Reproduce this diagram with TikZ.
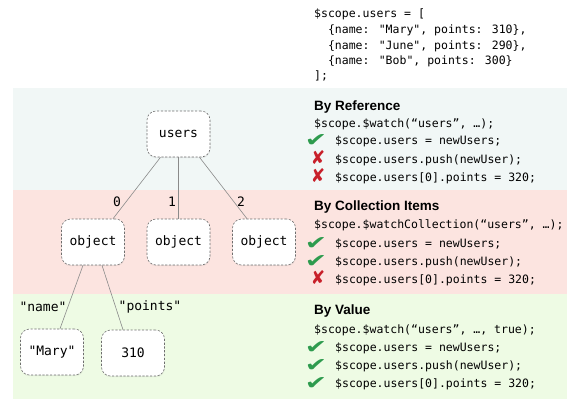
\documentclass[tikz,border=0pt]{standalone}
\usepackage{fontspec}
\usepackage{graphicx}
\setmainfont{Liberation Sans}
\newfontfamily\codefont{DejaVu Sans Mono}
\newfontfamily\symfont{DejaVu Sans}
\usetikzlibrary{shadows}
\definecolor{bandA}{HTML}{F1F7F6}
\definecolor{bandB}{HTML}{FCE4E0}
\definecolor{bandC}{HTML}{EEFBE4}
\definecolor{okc}{HTML}{2E9B4E}
\definecolor{noc}{HTML}{C8202A}
\definecolor{edgec}{HTML}{8A8A8A}
\definecolor{boxc}{HTML}{6E6E6E}
\newcommand{\okmark}{\scalebox{1.4}[1.0]{✔}}
\newcommand{\nomark}{\scalebox{0.95}[1.05]{✘}}
\begin{document}
\begin{tikzpicture}[x=1bp,y=-1bp,
  box/.style={draw=boxc, line width=0.6bp, dash pattern=on 2.2bp off 1.6bp,
    fill=white, rounded corners=9bp, minimum width=63bp, minimum height=46bp,
    inner sep=0pt, font=\codefont\fontsize{13bp}{15bp}\selectfont,
    drop shadow={opacity=0.12, shadow xshift=0.4bp, shadow yshift=-1.2bp}},
  link/.style={draw=edgec, line width=0.6bp},
  lbl/.style={inner sep=0pt, font=\codefont\fontsize{13bp}{15bp}\selectfont},
  code/.style={inner sep=0pt, anchor=base west, font=\codefont\fontsize{11.5bp}{14bp}\selectfont},
  head/.style={inner sep=0pt, anchor=base west, font=\bfseries\fontsize{13.5bp}{16bp}\selectfont},
  ok/.style={inner sep=0pt, anchor=base, text=okc, font=\symfont\fontsize{19bp}{20bp}\selectfont},
  no/.style={inner sep=0pt, anchor=base, text=noc, font=\symfont\fontsize{18bp}{20bp}\selectfont}]
\useasboundingbox (0,0) rectangle (583,405);
\fill[white] (0,0) rectangle (583,405);
% bands
\fill[bandA] (13,88) rectangle (567,190);
\fill[bandB] (13,190) rectangle (567,294);
\fill[bandC] (13,294) rectangle (567,399);
% top code
\node[code] (c1) at (314,17) {\$scope.users = [};
\node[code] (c2) at (314,33) {\ \ \{name: "Mary", points: 310\},};
\node[code] (c3) at (314,49) {\ \ \{name: "June", points: 290\},};
\node[code] (c4) at (314,64) {\ \ \{name: "Bob", points: 300\}};
\node[code] (c5) at (314,79) {];};
% tree
\node[box] (users) at (178.5,134) {users};
\node[box] (o1) at (93,242) {object};
\node[box] (o2) at (178.5,242) {object};
\node[box] (o3) at (264,242) {object};
\node[box] (mary) at (52,352) {"Mary"};
\node[box] (pts) at (133,353) {310};
\draw[link] ([xshift=-18bp]users.south) -- ([xshift=20bp]o1.north);
\draw[link] (users.south) -- (o2.north);
\draw[link] ([xshift=21bp]users.south) -- ([xshift=-17bp]o3.north);
\draw[link] ([xshift=-10bp]o1.south) -- ([xshift=8bp]mary.north);
\draw[link] ([xshift=9bp]o1.south) -- ([xshift=-10bp]pts.north);
\node[lbl] (l0) at (117,202) {0};
\node[lbl] (l1) at (172,202) {1};
\node[lbl] (l2) at (241,202) {2};
\node[lbl] (ln) at (43,307) {"name"};
\node[lbl] (lp) at (150,307) {"points"};
% section 1
\node[head] (h1) at (314,110) {By Reference};
\node[code] (w1) at (314,127) {\$scope.\$watch(“users”, …);};
\node[ok] (k11) at (316,146) {\okmark};
\node[code] (r11) at (335,144) {\$scope.users = newUsers;};
\node[no] (k12) at (318,164.5) {\nomark};
\node[code] (r12) at (335,163) {\$scope.users.push(newUser);};
\node[no] (k13) at (318,182.5) {\nomark};
\node[code] (r13) at (335,181) {\$scope.users[0].points = 320;};
% section 2
\node[head] (h2) at (314,210) {By Collection Items};
\node[code] (w2) at (314,228) {\$scope.\$watchCollection(“users”, …);};
\node[ok] (k21) at (316,249) {\okmark};
\node[code] (r21) at (335,247) {\$scope.users = newUsers;};
\node[ok] (k22) at (316,267) {\okmark};
\node[code] (r22) at (335,265) {\$scope.users.push(newUser);};
\node[no] (k23) at (318,284.5) {\nomark};
\node[code] (r23) at (335,283) {\$scope.users[0].points = 320;};
% section 3
\node[head] (h3) at (314,314) {By Value};
\node[code] (w3) at (314,333) {\$scope.\$watch(“users”, …, true);};
\node[ok] (k31) at (316,353) {\okmark};
\node[code] (r31) at (335,351) {\$scope.users = newUsers;};
\node[ok] (k32) at (316,371) {\okmark};
\node[code] (r32) at (335,369) {\$scope.users.push(newUser);};
\node[ok] (k33) at (316,389) {\okmark};
\node[code] (r33) at (335,387) {\$scope.users[0].points = 320;};
\end{tikzpicture}
\end{document}
